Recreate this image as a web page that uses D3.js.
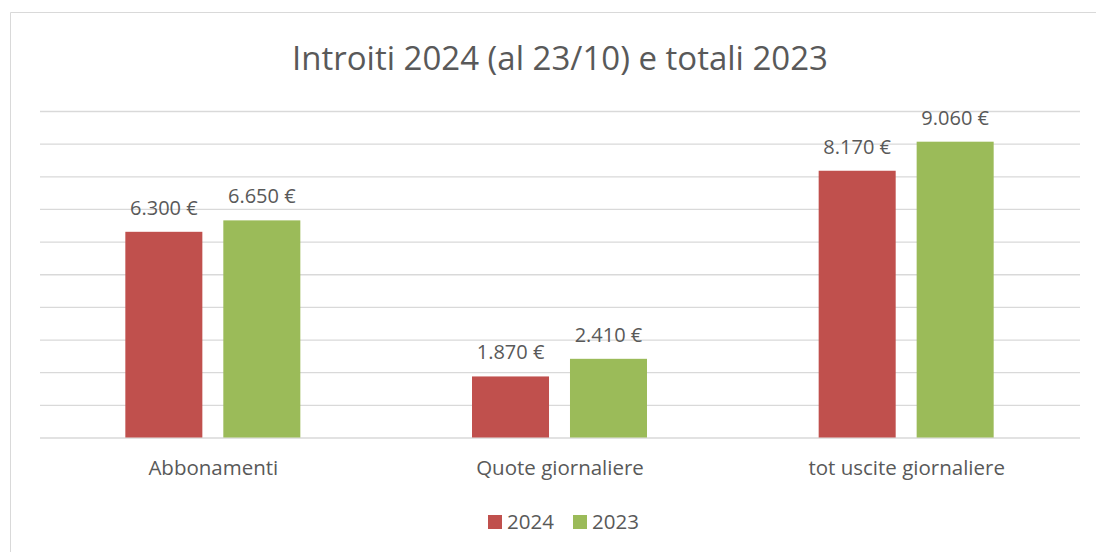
<!DOCTYPE html>
<html>
<head>
<meta charset="utf-8">
<script src="https://cdn.jsdelivr.net/npm/d3@7"></script>
<style>
  body { margin: 0; background: #fff; overflow: hidden; }
  svg { display: block; }
  text { font-family: "Open Sans", sans-serif; fill: #595959; }
</style>
</head>
<body>
<svg id="chart" width="1096" height="552"></svg>
<script>
const categories = ['Abbonamenti', 'Quote giornaliere', 'tot uscite giornaliere'];
const seriesNames = ['2024', '2023'];
const values2024 = [6300, 1870, 8170];
const values2023 = [6650, 2410, 9060];
const colors = ['#c0504d', '#9bbb59'];

const svg = d3.select('#chart');

// chart frame (only top and left edges are inside the picture)
svg.append('path')
  .attr('d', 'M10.5,552V12.5H1096')
  .attr('fill', 'none')
  .attr('stroke', '#d9d9d9');

// title
svg.append('text')
  .attr('x', 560).attr('y', 70)
  .attr('text-anchor', 'middle')
  .attr('font-size', '33px')
  .text('Introiti 2024 (al 23/10) e totali 2023');

const plotLeft = 40, plotRight = 1080, plotTop = 111, plotBottom = 437.5;

const x0 = d3.scaleBand().domain(categories).range([plotLeft, plotRight]);
const x1 = d3.scaleBand().domain(seriesNames).range([-87.5, 87.5]).paddingInner(0.214);
const y = d3.scaleLinear().domain([0, 10000]).range([plotBottom, plotTop]);

// gridlines
const g = svg.append('g');
g.append('g')
  .attr('transform', 'translate(' + plotLeft + ',0)')
  .call(d3.axisLeft(y).ticks(10).tickSize(-(plotRight - plotLeft)).tickFormat(''))
  .call((a) => a.select('.domain').remove())
  .selectAll('line')
  .attr('stroke', '#d9d9d9')
  .attr('stroke-width', 1.3);

const rows = categories.map((c, i) => ({
  key: c,
  vals: [
    { s: '2024', v: values2024[i] },
    { s: '2023', v: values2023[i] },
  ],
}));

const fmt = (v) => d3.format(',')(v).replace(/,/g, '.') + ' €';

const groups = g.selectAll('.grp')
  .data(rows)
  .enter()
  .append('g')
  .attr('class', 'grp')
  .attr('transform', (d) => 'translate(' + (x0(d.key) + x0.bandwidth() / 2 - 0.5) + ',0)');

groups.selectAll('rect')
  .data((d) => d.vals)
  .enter()
  .append('rect')
  .attr('x', (d) => x1(d.s))
  .attr('width', x1.bandwidth())
  .attr('y', (d) => y(d.v))
  .attr('height', (d) => plotBottom - y(d.v))
  .attr('fill', (d, i) => colors[i]);

// value labels
groups.selectAll('.lbl')
  .data((d) => d.vals)
  .enter()
  .append('text')
  .attr('class', 'lbl')
  .attr('x', (d) => x1(d.s) + x1.bandwidth() / 2)
  .attr('y', (d) => y(d.v) - 17)
  .attr('text-anchor', 'middle')
  .attr('font-size', '20px')
  .text((d) => fmt(d.v));

// x axis labels
g.append('g')
  .attr('transform', 'translate(0,' + plotBottom + ')')
  .call(d3.axisBottom(x0).tickSize(0).tickPadding(23))
  .call((a) => a.select('.domain').remove())
  .selectAll('text')
  .attr('font-size', '20.5px')
  .style('font-family', '"Open Sans", sans-serif')
  .attr('fill', '#595959');

// legend
const legend = svg.append('g').attr('transform', 'translate(488,515)');
const items = legend.selectAll('g')
  .data(seriesNames)
  .enter()
  .append('g')
  .attr('transform', (d, i) => 'translate(' + i * 85 + ',0)');
items.append('rect')
  .attr('width', 14).attr('height', 14)
  .attr('fill', (d, i) => colors[i]);
items.append('text')
  .attr('x', 19).attr('y', 14)
  .attr('font-size', '20.5px')
  .text((d) => d);
</script>
</body>
</html>
